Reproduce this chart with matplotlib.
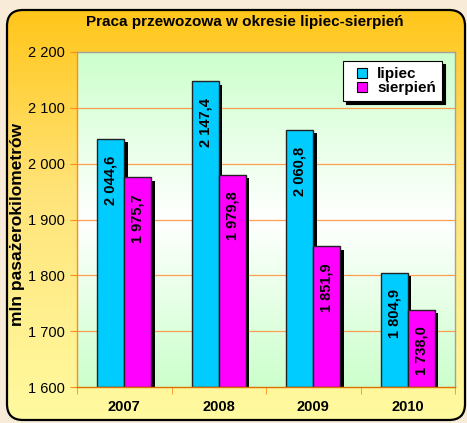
import numpy as np
import matplotlib
matplotlib.use("Agg")
import matplotlib.pyplot as plt
from matplotlib.patches import FancyBboxPatch
from matplotlib.lines import Line2D
from matplotlib.colors import LinearSegmentedColormap
import matplotlib.patheffects as pe

# データ
years = ["2007", "2008", "2009", "2010"]
lipiec = [2044.6, 2147.4, 2060.8, 1804.9]
sierpien = [1975.7, 1979.8, 1851.9, 1738.0]
series_names = ["lipiec", "sierpień"]
series_colors = ["#00ccff", "#ff00ff"]
y_ticks = [1600, 1700, 1800, 1900, 2000, 2100, 2200]

plt.rcParams["font.family"] = ["Liberation Sans", "DejaVu Sans"]

W, H = 467, 423
fig = plt.figure(figsize=(W / 100, H / 100), dpi=100)
fig.patch.set_facecolor("#f8ecd8")

# 背景カード（角丸・グラデーション）
bg = fig.add_axes([0, 0, 1, 1], zorder=-2)
bg.set_xlim(0, W)
bg.set_ylim(H, 0)
bg.axis("off")
card = FancyBboxPatch((7, 10), 458, 410, boxstyle="round,pad=0,rounding_size=16",
                      facecolor="none", edgecolor="black", linewidth=1.6, zorder=3)
bg.add_patch(card)
card_cmap = LinearSegmentedColormap.from_list(
    "card", [(0, "#ffc61a"), (0.45, "#ffe47a"), (1, "#fffaa0")])
grad = np.linspace(0, 1, 256).reshape(-1, 1)
img = bg.imshow(grad, cmap=card_cmap, extent=(7, 465, 420, 10), aspect="auto", zorder=1)
img.set_clip_path(card)

# プロット領域
ax = fig.add_axes([77 / W, 1 - 387 / H, 378 / W, 335 / H])
ax.set_facecolor("none")
area_cmap = LinearSegmentedColormap.from_list(
    "area", [(0, "#ccffcc"), (0.5, "#ffffff"), (1, "#ccffcc")])
ax.imshow(grad, cmap=area_cmap, extent=(0, 1, 0, 1), transform=ax.transAxes,
          aspect="auto", zorder=0)

x = np.arange(len(years))
w = 0.285
shadow = [pe.SimplePatchShadow(offset=(2.5, -2.5), shadow_rgbFace="black", alpha=1), pe.Normal()]
for i, (vals, col) in enumerate(zip([lipiec, sierpien], series_colors)):
    pos = x + (i - 0.5) * w
    bars = ax.bar(pos, np.array(vals) - 1600, bottom=1600, width=w, color=col,
                  edgecolor="#222222", linewidth=1, zorder=3 + i)
    for b in bars:
        b.set_path_effects(shadow)
    for xp, v in zip(pos, vals):
        lbl = f"{v:,.1f}".replace(",", " ").replace(".", ",")
        ax.annotate(lbl, (xp, v), xytext=(0, -12), textcoords="offset points",
                    rotation=90, ha="center", va="top", fontsize=10.5,
                    fontweight="bold", zorder=10)

ax.set_xlim(-0.5, 3.5)
ax.set_ylim(1600, 2200)
ax.set_yticks(y_ticks)
ax.set_yticklabels([f"{t:,}".replace(",", " ") for t in y_ticks], fontsize=10.5)
ax.set_xticks(x)
ax.set_xticklabels(years, fontsize=10.5, fontweight="bold")
ax.set_xticks(np.arange(-0.5, 4, 1), minor=True)
ax.tick_params(axis="x", which="major", length=0, pad=9)
ax.tick_params(axis="x", which="minor", length=5, color="#ff8c1a", direction="out")
ax.tick_params(axis="y", length=5, color="#ff8c1a", direction="out", pad=4)

for t in y_ticks[1:-1]:
    ax.axhline(t, color="#ffa050", linewidth=0.9, zorder=1)

ax.spines["left"].set_color("#ff8c1a")
ax.spines["bottom"].set_color("#e07000")
ax.spines["top"].set_color("#a0a0a0")
ax.spines["right"].set_color("#a0a0a0")
for s in ax.spines.values():
    s.set_linewidth(1)
    s.set_zorder(6)

handles = [Line2D([], [], linestyle="none", marker="s", markersize=6.5,
                  markerfacecolor=c, markeredgecolor="black", markeredgewidth=0.8)
           for c in series_colors]
leg = ax.legend(handles, series_names, loc="upper right", bbox_to_anchor=(0.966, 0.973),
                borderaxespad=0, fancybox=False, shadow={"color": "black", "alpha": 1},
                frameon=True, edgecolor="black", facecolor="white", framealpha=1,
                prop={"size": 11, "weight": "bold"}, handlelength=1.7,
                handletextpad=0.15, labelspacing=0.0, borderpad=0.4)
leg.get_frame().set_linewidth(0.8)
leg.set_zorder(20)

fig.text(245 / W, 1 - 22 / H, "Praca przewozowa w okresie lipiec-sierpień",
         ha="center", va="center", fontsize=11, fontweight="bold")
fig.text(18 / W, 1 - 224 / H, "mln pasażerokilometrów", rotation=90,
         ha="center", va="center", fontsize=12.5, fontweight="bold")

fig.savefig("out.png", dpi=100, facecolor=fig.get_facecolor())
